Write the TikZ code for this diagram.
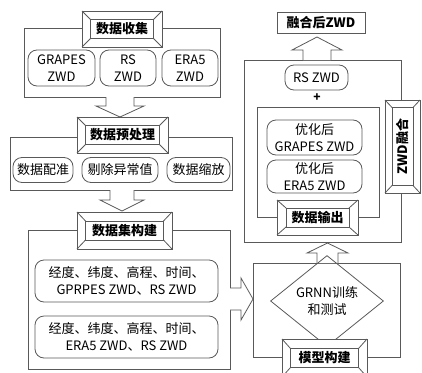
\documentclass[tikz,border=0pt]{standalone}
\usepackage{fontspec}
\setmainfont{Noto Sans CJK SC}
\usetikzlibrary{shapes.geometric}

% bevelled title box: [options]{name}{position}{outer w}{outer h}{inner w}{inner h}{text}
\newcommand{\bevelnode}[8][]{%
  \node[bevelout, minimum width=#4, minimum height=#5, #1] (#2-o) at (#3) {};
  \node[bevelin, minimum width=#6, minimum height=#7, #1] (#2) at (#3) {#8};
  \foreach \corner in {north west,north east,south west,south east}
    \draw[line] (#2-o.\corner) -- (#2.\corner);
}

\begin{document}
\begin{tikzpicture}[x=1pt, y=-1pt,
    line/.style={draw=black!65, line width=0.8pt},
    frame/.style={line},
    item/.style={line, rounded corners=9pt, align=center, inner sep=0pt,
      font=\fontsize{13}{17}\selectfont},
    bevelout/.style={line, fill=white, inner sep=0pt, outer sep=0pt},
    bevelin/.style={line, fill=white, inner sep=0pt, outer sep=0pt,
      font=\fontsize{13}{15}\selectfont\bfseries},
    blockarrow/.style={line, fill=white, line join=miter}]
  \useasboundingbox (0,0) rectangle (422,372);

  % frames
  \draw[frame] (24,28) rectangle (220,97);
  \draw[frame] (10,137) rectangle (232,190);
  \draw[frame] (28,230) rectangle (230,369);
  \draw[frame] (253,263) rectangle (400,357);
  \draw[frame] (244,60) rectangle (401,242);
  \draw[frame] (257,107) rectangle (379,217);

  % hollow arrows between the groups
  \draw[blockarrow] (106,97) -- (106,106) -- (96,106) -- (120,117) -- (144,106) -- (134,106) -- (134,97);
  \draw[blockarrow] (110,190) -- (110,200) -- (100,200) -- (122,211) -- (144,200) -- (134,200) -- (134,190);
  \draw[blockarrow] (230,288) -- (241,288) -- (241,278) -- (253,299) -- (241,320) -- (241,310) -- (230,310);
  \draw[blockarrow] (317,263) -- (317,253) -- (307,253) -- (327.5,243) -- (348,253) -- (338,253) -- (338,263);
  \draw[blockarrow] (303,60) -- (303,50) -- (292,50) -- (317,37) -- (342,50) -- (331,50) -- (331,60);

  % 数据收集
  \bevelnode{collect}{122,29}{80}{36}{63}{19}{数据收集}
  \node[item, minimum width=67, minimum height=36] (grapes) at (61.5,68) {GRAPES\\ZWD};
  \node[item, minimum width=56, minimum height=36] (rs) at (128,68) {RS\\ZWD};
  \node[item, minimum width=56, minimum height=36] (era) at (190,68) {ERA5\\ZWD};

  % 数据预处理
  \bevelnode{prep}{122.5,135}{91}{36}{74}{19}{数据预处理}
  \node[item, minimum width=60, minimum height=25] (match) at (43,170) {数据配准};
  \node[item, minimum width=76, minimum height=25] (outlier) at (120,170) {剔除异常值};
  \node[item, minimum width=63, minimum height=25] (scale) at (198.5,170) {数据缩放};

  % 数据集构建
  \bevelnode{dataset}{124.5,230.5}{95}{37}{78}{19}{数据集构建}
  \node[item, minimum width=183, minimum height=42] (setA) at (126.5,281)
    {经度、纬度、高程、时间、\\GPRPES ZWD、RS ZWD};
  \node[item, minimum width=183, minimum height=42] (setB) at (126.5,337)
    {经度、纬度、高程、时间、\\ERA5 ZWD、RS ZWD};

  % 模型构建
  \node[line, diamond, minimum width=113, minimum height=68, inner sep=0pt,
    align=center, font=\fontsize{13}{17}\selectfont] (grnn) at (327,301) {GRNN训练\\和测试};
  \bevelnode{model}{324.5,358}{85}{38}{68}{19}{模型构建}

  % ZWD融合
  \node[line, minimum width=88, minimum height=21, inner sep=0pt,
    font=\fontsize{13}{15}\selectfont\bfseries] (fused) at (321,23) {融合后ZWD};
  \node[item, minimum width=63, minimum height=25] (rsout) at (316.5,77.5) {RS ZWD};
  \node[font=\fontsize{12}{14}\selectfont\bfseries] (plus) at (317,98) {+};
  \node[item, minimum width=95, minimum height=35] (optg) at (314.5,137.5) {优化后\\GRAPES ZWD};
  \node[item, minimum width=95, minimum height=33] (opte) at (314.5,176.5) {优化后\\ERA5 ZWD};
  \bevelnode{output}{317.5,217.5}{81}{35}{63}{19}{数据输出}
  \bevelnode[rotate=90]{fusion}{402.5,146.5}{93}{35}{78}{21}{ZWD融合}
\end{tikzpicture}
\end{document}
